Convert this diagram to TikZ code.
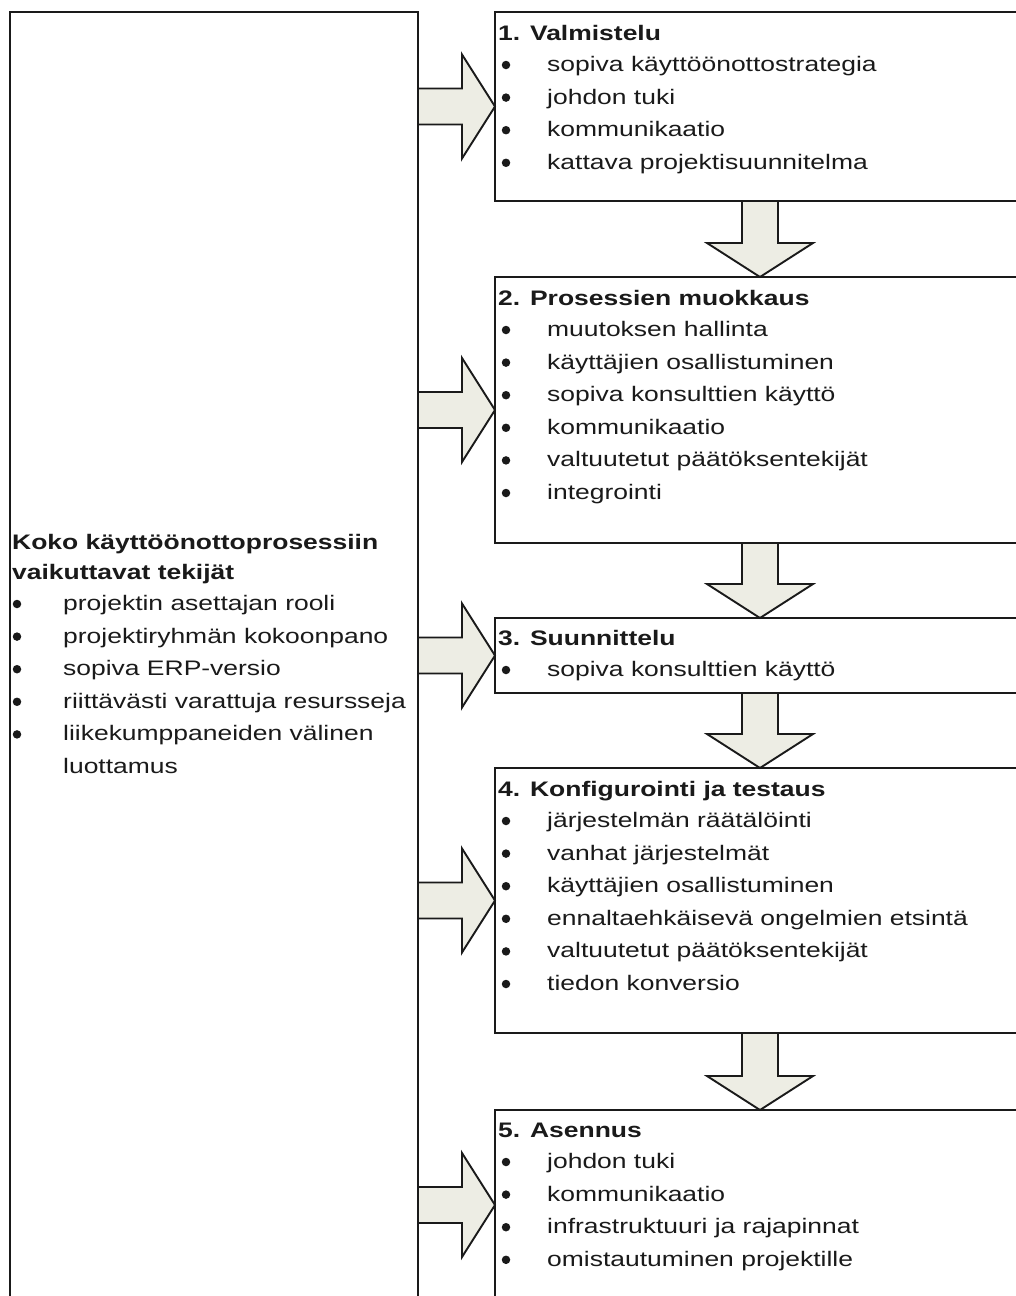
\documentclass[tikz,border=0pt]{standalone}
\usepackage{fontspec}
\setmainfont{Liberation Sans}[FakeStretch=1.26]
\usetikzlibrary{calc}

\definecolor{arrowfill}{HTML}{EDEDE4}
\definecolor{ink}{HTML}{1A1A1A}

\tikzset{
  stagebox/.style={draw=ink, line width=2.2pt, fill=white, inner sep=0pt, outer sep=0pt, anchor=north west},
  blockarrow/.style={draw=ink, line width=1.9pt, fill=arrowfill, line join=miter},
  ttl/.style={anchor=base west, inner sep=0pt, text=ink, font=\fontsize{21}{24}\selectfont\bfseries},
  itm/.style={anchor=base west, inner sep=0pt, text=ink, font=\fontsize{21}{24}\selectfont},
  bul/.style={circle, fill=ink, inner sep=0pt, minimum size=8.5pt},
}

% bullet list: #1 name prefix, #2 bullet x, #3 text x, #4 first baseline, #5 items
\newcommand\bulletlist[5]{%
  \foreach \t [count=\i] in {#5} {
    \node[bul] (#1d\i) at (#2, {#4-6.5+32.6*(\i-1)}) {};
    \node[itm] (#1t\i) at (#3, {#4+32.6*(\i-1)}) {\t};
  }}

% block arrow from the left panel #1 into stage #2
\newcommand\sidearrow[2]{%
  \draw[blockarrow] let \p1=(#2.west), \p2=(#1.east |- #2.west) in
    (\x2,{\y1+18pt}) -- ({\x1-33pt},{\y1+18pt}) -- ({\x1-33pt},{\y1+52pt})
    -- (\x1,\y1) -- ({\x1-33pt},{\y1-52pt}) -- ({\x1-33pt},{\y1-18pt})
    -- (\x2,{\y1-18pt}) -- cycle;}

% block arrow from stage #1 down to stage #2
\newcommand\stagedrop[2]{%
  \draw[blockarrow] let \p1=(dx |- #1.south), \p2=(dx |- #2.north) in
    ({\x1-18pt},\y1) -- ({\x1-18pt},{\y2+34pt}) -- ({\x1-53pt},{\y2+34pt})
    -- (\x1,\y2) -- ({\x1+53pt},{\y2+34pt}) -- ({\x1+18pt},{\y2+34pt})
    -- ({\x1+18pt},\y1) -- cycle;}

\begin{document}
\begin{tikzpicture}[x=1pt, y=-1pt]
  \path[use as bounding box, clip] (0,0) rectangle (1016,1296);
  \fill[white] (0,0) rectangle (1016,1296);

  % panels
  \node[stagebox, minimum width=408pt, minimum height=1400pt] (koko) at (10,12) {};
  \node[stagebox, minimum width=600pt, minimum height=189pt] (s1) at (495,12) {};
  \node[stagebox, minimum width=600pt, minimum height=266pt] (s2) at (495,277) {};
  \node[stagebox, minimum width=600pt, minimum height=75pt]  (s3) at (495,618) {};
  \node[stagebox, minimum width=600pt, minimum height=265pt] (s4) at (495,768) {};
  \node[stagebox, minimum width=600pt, minimum height=190pt] (s5) at (495,1110) {};

  % arrows
  \coordinate (dx) at (760,0);
  \stagedrop{s1}{s2}
  \stagedrop{s2}{s3}
  \stagedrop{s3}{s4}
  \stagedrop{s4}{s5}
  \sidearrow{koko}{s1}
  \sidearrow{koko}{s2}
  \sidearrow{koko}{s3}
  \sidearrow{koko}{s4}
  \sidearrow{koko}{s5}

  % left panel text
  \node[ttl] (kokott1) at (12,549) {Koko käyttöönottoprosessiin};
  \node[ttl] (kokott2) at (12,579) {vaikuttavat tekijät};
  \bulletlist{koko}{17}{63}{610.5}{projektin asettajan rooli, projektiryhmän kokoonpano, sopiva ERP-versio, riittävästi varattuja resursseja, liikekumppaneiden välinen}
  \node[itm] (kokocont) at (63,773.5) {luottamus};

  % stage texts
  \node[ttl] (s1tt) at (498,40) {1. Valmistelu};
  \bulletlist{s1}{506}{547}{71.5}{sopiva käyttöönottostrategia, johdon tuki, kommunikaatio, kattava projektisuunnitelma}

  \node[ttl] (s2tt) at (498,305) {2. Prosessien muokkaus};
  \bulletlist{s2}{506}{547}{336.5}{muutoksen hallinta, käyttäjien osallistuminen, sopiva konsulttien käyttö, kommunikaatio, valtuutetut päätöksentekijät, integrointi}

  \node[ttl] (s3tt) at (498,645) {3. Suunnittelu};
  \bulletlist{s3}{506}{547}{676.5}{sopiva konsulttien käyttö}

  \node[ttl] (s4tt) at (498,796) {4. Konfigurointi ja testaus};
  \bulletlist{s4}{506}{547}{827.5}{järjestelmän räätälöinti, vanhat järjestelmät, käyttäjien osallistuminen, ennaltaehkäisevä ongelmien etsintä, valtuutetut päätöksentekijät, tiedon konversio}

  \node[ttl] (s5tt) at (498,1137) {5. Asennus};
  \bulletlist{s5}{506}{547}{1168.5}{johdon tuki, kommunikaatio, infrastruktuuri ja rajapinnat, omistautuminen projektille}
\end{tikzpicture}
\end{document}
